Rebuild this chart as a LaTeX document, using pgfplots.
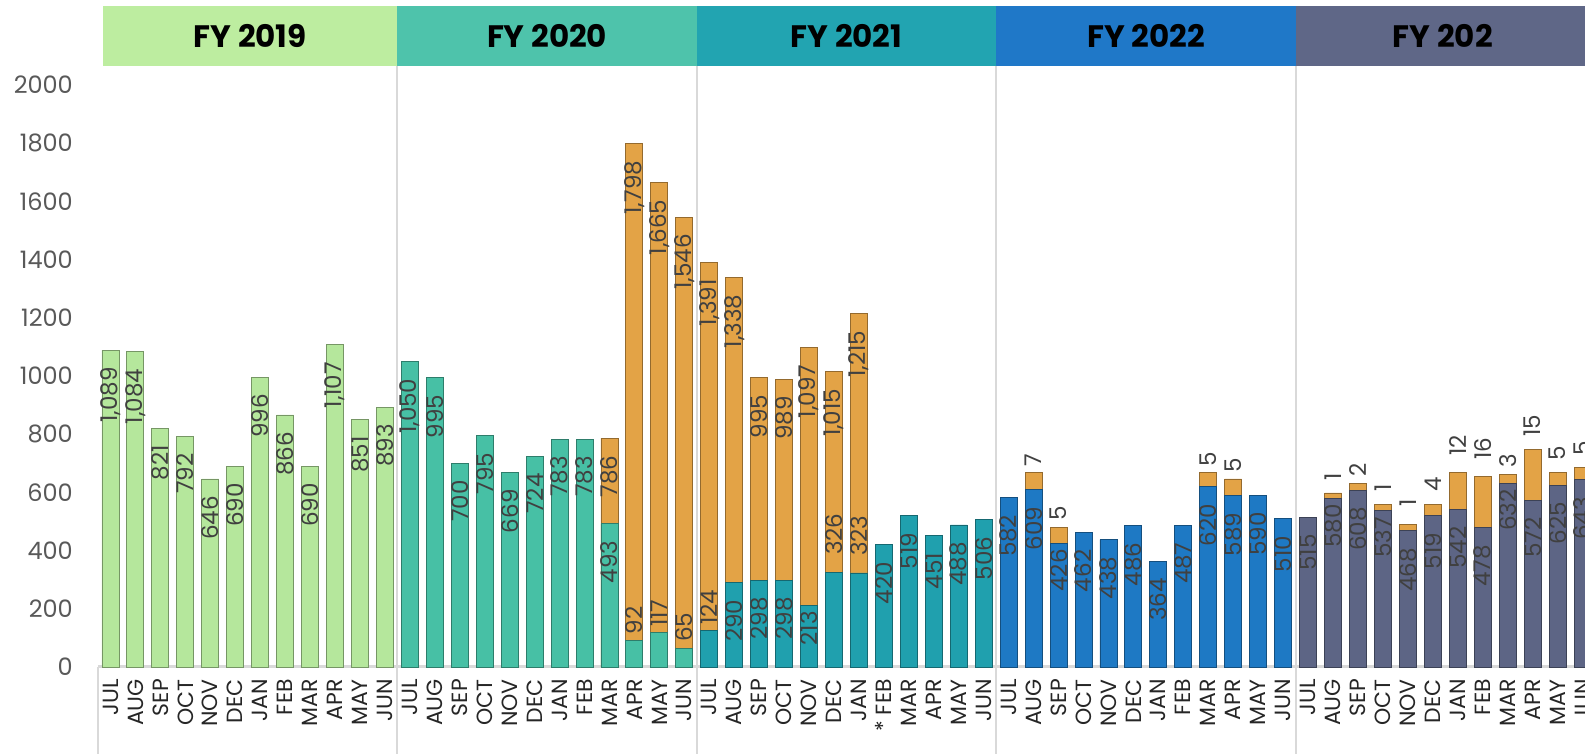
\documentclass[border=0pt]{standalone}
\usepackage{pgfplots}
\pgfplotsset{compat=1.18}
\usepackage{pgfplotstable}
\usepackage{fontspec}
\setmainfont{Poppins}

\definecolor{c19}{HTML}{B5E79C}
\definecolor{c20}{HTML}{47C0A5}
\definecolor{c21}{HTML}{20A0AE}
\definecolor{c22}{HTML}{1E79C4}
\definecolor{c23}{HTML}{5D6585}
\definecolor{h19}{HTML}{BDEDA0}
\definecolor{h20}{HTML}{4EC3AB}
\definecolor{h21}{HTML}{22A4B1}
\definecolor{h22}{HTML}{1F78C8}
\definecolor{h23}{HTML}{5F6787}
\definecolor{orng}{HTML}{E3A346}
\definecolor{sep}{HTML}{D9D9D9}
\definecolor{lbl}{HTML}{404040}
\definecolor{tck}{HTML}{595959}

% bars: x = month index (0..59), b = base value, t = top of orange segment
\pgfplotstableread{
x b
0 1089
1 1084
2 821
3 792
4 646
5 690
6 996
7 866
8 690
9 1107
10 851
11 893
}\fyA
\pgfplotstableread{
x b
12 1050
13 995
14 700
15 795
16 669
17 724
18 783
19 783
20 493
21 92
22 117
23 65
}\fyB
\pgfplotstableread{
x b
24 124
25 290
26 298
27 298
28 213
29 326
30 323
31 420
32 519
33 451
34 488
35 506
}\fyC
\pgfplotstableread{
x b
36 582
37 609
38 426
39 462
40 438
41 486
42 364
43 487
44 620
45 589
46 590
47 510
}\fyD
\pgfplotstableread{
x b
48 515
49 580
50 608
51 537
52 468
53 519
54 542
55 478
56 632
57 572
58 625
59 643
}\fyE
\pgfplotstableread{
x t
20 786
21 1798
22 1665
23 1546
24 1391
25 1338
26 995
27 989
28 1097
29 1015
30 1215
37 667
38 481
44 667
45 646
49 598
50 632
51 560
52 491
53 560
54 667
55 653
56 663
57 749
58 667
59 684
}\orng

% labels, grouped by placement
\pgfplotstableread{
x y l
0 1089 1,089
1 1084 1,084
2 821 821
3 792 792
4 646 646
5 690 690
6 996 996
7 866 866
8 690 690
9 1107 1,107
10 851 851
11 893 893
12 1050 1,050
13 995 995
14 700 700
15 795 795
16 669 669
17 724 724
18 783 783
19 783 783
20 493 493
20 786 786
21 1798 1,798
22 1665 1,665
23 1546 1,546
24 1391 1,391
25 1338 1,338
25 290 290
26 995 995
26 298 298
27 989 989
27 298 298
28 1097 1,097
29 1015 1,015
30 1215 1,215
31 420 420
32 519 519
33 451 451
34 488 488
35 506 506
36 582 582
37 609 609
39 462 462
40 438 438
41 486 486
42 364 364
43 487 487
44 620 620
45 589 589
46 590 590
47 510 510
48 515 515
50 608 608
52 468 468
53 519 519
54 542 542
55 478 478
57 572 572
58 625 625
59 643 643
}\labIn
\pgfplotstableread{
x y l
28 213 213
38 426 426
49 580 580
51 537 537
56 632 632
}\labInTight
\pgfplotstableread{
x y l
21 92 92
22 117 117
23 65 65
24 124 124
37 667 7
38 481 5
44 667 5
45 646 5
50 632 2
56 663 3
}\labOutS
\pgfplotstableread{
x y l
49 598 1
51 560 1
53 560 4
57 749 15
58 667 5
59 684 5
}\labOutM
\pgfplotstableread{
x y l
29 326 326
30 323 323
52 491 1
54 667 12
55 653 16
}\labOutL

\begin{document}
\begin{tikzpicture}
\path[use as bounding box, clip] (-98pt,-87pt) rectangle (1487pt,667pt);
\begin{axis}[
  at={(0,0)}, anchor=south west,
  scale only axis, width=1497pt, height=601pt,
  xmin=-0.5, xmax=59.5, ymin=0, ymax=2065,
  clip=false,
  axis line style={draw=none},
  major tick length=0pt,
  ytick={0,200,...,2000},
  /pgf/number format/1000 sep={},
  /pgf/number format/assume math mode=true,
  yticklabel style={font=\fontsize{24}{24}\selectfont, text=tck, inner xsep=0pt},
  yticklabel shift={25pt},
  xtick={0,...,59},
  xticklabels={JUL,AUG,SEP,OCT,NOV,DEC,JAN,FEB,MAR,APR,MAY,JUN,
               JUL,AUG,SEP,OCT,NOV,DEC,JAN,FEB,MAR,APR,MAY,JUN,
               JUL,AUG,SEP,OCT,NOV,DEC,JAN,{* FEB},MAR,APR,MAY,JUN,
               JUL,AUG,SEP,OCT,NOV,DEC,JAN,FEB,MAR,APR,MAY,JUN,
               JUL,AUG,SEP,OCT,NOV,DEC,JAN,FEB,MAR,APR,MAY,JUN},
  xticklabel style={rotate=90, anchor=east, inner xsep=0pt,
    font=\fontsize{22}{22}\selectfont, text=black!85},
  xticklabel shift={12pt},
  bars/.style={ybar, bar width=17pt, bar shift=0pt,
    fill=#1, draw=#1!65!black, line width=0.9pt},
  lab/.style 2 args={draw=none, mark=none, nodes near coords,
    point meta=explicit symbolic,
    every node near coord/.append style={rotate=90, anchor=#1,
      inner xsep=#2, inner ysep=0pt,
      font=\fontsize{23}{23}\selectfont, text=lbl}},
]
% header bands
\fill[h19] (axis cs:-0.3,2065) rectangle (axis cs:11.5,2271);
\fill[h20] (axis cs:11.5,2065) rectangle (axis cs:23.5,2271);
\fill[h21] (axis cs:23.5,2065) rectangle (axis cs:35.5,2271);
\fill[h22] (axis cs:35.5,2065) rectangle (axis cs:47.5,2271);
\fill[h23] (axis cs:47.5,2065) rectangle (axis cs:59.5,2271);
\node[font=\bfseries\fontsize{31}{31}\selectfont] at (axis cs:5.6,2168) {FY 2019};
\node[font=\bfseries\fontsize{31}{31}\selectfont] at (axis cs:17.5,2168) {FY 2020};
\node[font=\bfseries\fontsize{31}{31}\selectfont] at (axis cs:29.5,2168) {FY 2021};
\node[font=\bfseries\fontsize{31}{31}\selectfont] at (axis cs:41.5,2168) {FY 2022};
\node[font=\bfseries\fontsize{31}{31}\selectfont] at (axis cs:53.4,2168) {FY 202};
% separators and base line
\draw[sep, line width=2pt] (axis cs:-0.5,0) -- (axis cs:-0.5,-400);
\draw[sep, line width=2pt] (axis cs:11.5,2065) -- (axis cs:11.5,-400);
\draw[sep, line width=2pt] (axis cs:23.5,2065) -- (axis cs:23.5,-400);
\draw[sep, line width=2pt] (axis cs:35.5,2065) -- (axis cs:35.5,-400);
\draw[sep, line width=2pt] (axis cs:47.5,2065) -- (axis cs:47.5,-400);
\draw[sep, line width=3pt] (axis cs:-0.5,0) -- (axis cs:59.5,0);

\addplot[bars=orng] table[x=x, y=t] {\orng};
\addplot[bars=c19] table[x=x, y=b] {\fyA};
\addplot[bars=c20] table[x=x, y=b] {\fyB};
\addplot[bars=c21] table[x=x, y=b] {\fyC};
\addplot[bars=c22] table[x=x, y=b] {\fyD};
\addplot[bars=c23] table[x=x, y=b] {\fyE};

\addplot[lab={east}{17pt}] table[x=x, y=y, meta=l] {\labIn};
\addplot[lab={east}{6pt}] table[x=x, y=y, meta=l] {\labInTight};
\addplot[lab={west}{6pt}] table[x=x, y=y, meta=l] {\labOutS};
\addplot[lab={west}{12pt}] table[x=x, y=y, meta=l] {\labOutM};
\addplot[lab={west}{17pt}] table[x=x, y=y, meta=l] {\labOutL};
\end{axis}
\end{tikzpicture}
\end{document}
